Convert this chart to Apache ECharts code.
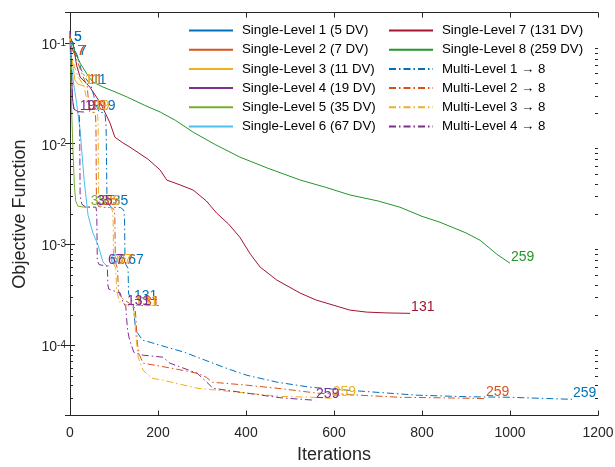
<!DOCTYPE html>
<html>
<head>
<meta charset="utf-8">
<script src="https://cdn.jsdelivr.net/npm/echarts@6/dist/echarts.min.js"></script>
<style>
  html, body { margin: 0; padding: 0; background: #ffffff; }
  #chart { width: 615px; height: 467px; }
</style>
</head>
<body>
<div id="chart"></div>
<script>
// Convergence histories: [iteration, objective value, optional DV-count tag]
const singleLevel1 = [[0,0.112],[3,0.105],[7,0.1,'5']];
const singleLevel2 = [[0,0.115],[3,0.095],[7,0.082],[14,0.0725,'7']];
const singleLevel3 = [[0,0.12],[3,0.075],[7,0.058],[11,0.043],[18,0.039],[32,0.0374,'11']];
const singleLevel4 = [[0,0.131],[2,0.08],[4,0.042],[6,0.027],[9,0.022],[18,0.0208],[32,0.0206,'19']];
const singleLevel5 = [[0,0.107],[2,0.05],[4,0.02],[7,0.008],[10,0.0038],[13,0.0027],[18,0.0024],[30,0.00235],[45,0.00234,'35']];
const singleLevel6 = [[0,0.107],[2,0.067],[8,0.04],[14,0.027],[23,0.0136],[32,0.0044],[41,0.00195],[52,0.0013],[64,0.00098],[75,0.00067],[82,0.00062],[89,0.00061,'67']];
const singleLevel7 = [[0,0.112],[7,0.1],[15,0.06],[23,0.0458],[45,0.0365],[70,0.025],[91,0.016],[102,0.0116],[120,0.0102],[136,0.00925],[177,0.00703],[205,0.00547],[220,0.00435],[250,0.0039],[280,0.00346],[310,0.0027],[333,0.00205],[360,0.0016],[386,0.00118],[410,0.0008],[432,0.000596],[470,0.000443],[523,0.000329],[560,0.00028],[598,0.00025],[636,0.000223],[674,0.000213],[720,0.000209],[773,0.000207,'131']];
const singleLevel8 = [[0,0.117],[4,0.104],[12,0.08],[23,0.063],[40,0.048],[52,0.041],[75,0.0365],[100,0.033],[130,0.029],[170,0.024],[205,0.0206],[240,0.017],[280,0.013],[330,0.0098],[386,0.00736],[450,0.0057],[523,0.00436],[580,0.0037],[636,0.0031],[700,0.0027],[750,0.00234],[800,0.0019],[841,0.00166],[900,0.0013],[932,0.0011],[970,0.0008],[1000,0.00065,'259']];

const multiLevel1 = [[0,0.112],[7,0.1,'5'],[11,0.085],[18,0.0725,'7'],[25,0.055],[35,0.045],[48,0.0374,'11'],[54,0.03],[60,0.024],[66,0.0206,'19'],[76,0.0203],[80,0.019],[82,0.015],[84,0.003],[87,0.0025],[95,0.00234,'35'],[115,0.00232],[122,0.0022],[124,0.0018],[125,0.0007],[127,0.00063],[130,0.00061,'67'],[132,0.00058],[133,0.00033],[137,0.00029],[143,0.000267,'131'],[144,0.00024],[148,0.00016],[152,0.000135],[165,0.000112],[182,0.000107],[220,0.0000955],[260,0.000085],[289,0.000076],[325,0.0000663],[360,0.000058],[402,0.0000503],[470,0.000043],[545,0.0000383],[598,0.0000366],[700,0.000034],[789,0.0000319],[900,0.0000308],[1000,0.0000304],[1141,0.000029,'259']];
const multiLevel2 = [[0,0.118],[4,0.09],[14,0.0725,'7'],[20,0.06],[30,0.046],[39,0.0374,'11'],[41,0.03],[43,0.024],[45,0.0206,'19'],[55,0.0204],[58,0.019],[59,0.015],[60,0.0028],[64,0.0024],[70,0.00234,'35'],[95,0.00232],[101,0.0022],[102,0.0018],[103,0.0007],[105,0.00063],[107,0.00061,'67'],[108,0.00058],[110,0.00035],[115,0.0003],[135,0.00026],[148,0.000233,'131'],[150,0.00018],[153,0.000105],[158,0.00008],[166,0.0000663],[227,0.0000595],[289,0.0000527],[310,0.000048],[323,0.0000429],[402,0.0000401],[480,0.000037],[545,0.0000341],[561,0.0000334],[650,0.000032],[750,0.0000304],[850,0.00003],[943,0.0000295,'259']];
const multiLevel3 = [[0,0.12],[4,0.075],[10,0.058],[20,0.045],[32,0.0374,'11'],[36,0.03],[42,0.024],[52,0.0206,'19'],[60,0.0204],[63,0.019],[64,0.015],[65,0.0028],[69,0.0024],[77,0.00234,'35'],[94,0.00232],[97,0.0021],[98,0.0018],[99,0.0007],[100,0.00063],[102,0.00061,'67'],[104,0.00058],[106,0.00035],[112,0.00027],[130,0.00025],[145,0.000235,'131'],[146,0.0002],[150,0.00012],[155,0.000076],[166,0.0000565],[186,0.000047],[211,0.0000449],[289,0.0000374],[402,0.0000334],[480,0.000031],[552,0.0000304],[595,0.0000297,'259']];
const multiLevel4 = [[0,0.131],[2,0.08],[4,0.042],[6,0.027],[9,0.022],[15,0.0208],[20,0.0206,'19'],[21,0.019],[22,0.015],[23,0.003],[27,0.0025],[35,0.00236],[59,0.00234,'35'],[60,0.0022],[61,0.0018],[62,0.0007],[66,0.00063],[84,0.00061,'67'],[85,0.00058],[86,0.0004],[88,0.00036],[114,0.00033],[120,0.00027],[127,0.00024,'131'],[128,0.0002],[131,0.00014],[135,0.000115],[145,0.000085],[166,0.0000796],[211,0.000076],[227,0.0000663],[289,0.0000527],[311,0.0000429],[325,0.0000374],[402,0.0000334],[480,0.00003],[557,0.0000284,'259']];

const seriesNames = [
  'Single-Level 1 (5 DV)', 'Single-Level 2 (7 DV)', 'Single-Level 3 (11 DV)',
  'Single-Level 4 (19 DV)', 'Single-Level 5 (35 DV)', 'Single-Level 6 (67 DV)',
  'Single-Level 7 (131 DV)', 'Single-Level 8 (259 DV)',
  'Multi-Level 1 \u2192 8', 'Multi-Level 2 \u2192 8', 'Multi-Level 3 \u2192 8', 'Multi-Level 4 \u2192 8'
];
const seriesData = [singleLevel1, singleLevel2, singleLevel3, singleLevel4, singleLevel5, singleLevel6,
  singleLevel7, singleLevel8, multiLevel1, multiLevel2, multiLevel3, multiLevel4];
const seriesColors = ['#0072BD', '#D95319', '#EDB120', '#7E2F8E', '#77AC30', '#4DBEEE',
  '#A2142F', '#22962A', '#0072BD', '#D95319', '#EDB120', '#7E2F8E'];
const seriesDashed = [false, false, false, false, false, false, false, false, true, true, true, true];

const xRange = [0, 1200];
const xStep = 200;
const yRange = [2e-5, 0.2];

const FONT = '"Liberation Sans", Arial, Helvetica, sans-serif';
const INK = '#262626';
const DASH_DOT = [7, 3, 1.5, 3];

function buildLine(i) {
  const color = seriesColors[i];
  return {
    name: seriesNames[i],
    type: 'line',
    xAxisIndex: 0,
    yAxisIndex: 0,
    data: seriesData[i].map(p => p[2]
      ? { value: [p[0], p[1]], label: { show: true, formatter: p[2] } }
      : [p[0], p[1]]),
    symbol: 'circle',
    symbolSize: 0,
    showSymbol: true,
    showAllSymbol: true,
    lineStyle: { color: color, width: 1, type: seriesDashed[i] ? DASH_DOT : 'solid' },
    itemStyle: { color: color },
    label: {
      show: false, position: 'right', distance: 1, offset: [0, -6],
      color: color, fontSize: 14, fontFamily: FONT
    },
    emphasis: { disabled: true },
    silent: true,
    animation: false
  };
}

// logarithmic minor ticks (2..9 x 10^k) inside the plot box, on both vertical sides
const minorTickValues = [];
for (let e = -5; e <= -1; e++) {
  for (let m = 2; m <= 9; m++) {
    const v = m * Math.pow(10, e);
    if (v > yRange[0] * 1.001 && v < yRange[1] * 0.999) minorTickValues.push(v);
  }
}

const minorTicks = {
  type: 'custom',
  xAxisIndex: 0,
  yAxisIndex: 0,
  silent: true,
  animation: false,
  z: 5,
  data: minorTickValues.map(v => [xRange[0], v]),
  renderItem: function (params, api) {
    const pt = api.coord([xRange[0], api.value(1)]);
    const cs = params.coordSys;
    const y = Math.round(pt[1]) + 0.5;
    const st = { stroke: INK, lineWidth: 1 };
    return {
      type: 'group',
      children: [
        { type: 'line', shape: { x1: cs.x, y1: y, x2: cs.x + 3, y2: y }, style: st },
        { type: 'line', shape: { x1: cs.x + cs.width - 3, y1: y, x2: cs.x + cs.width, y2: y }, style: st }
      ]
    };
  }
};

function powerLabel(v) {
  const e = Math.log10(v);
  const r = Math.round(e);
  return Math.abs(e - r) < 1e-6 ? '{b|10}{s|' + r + '}' : '';
}

const axisLineStyle = { lineStyle: { color: INK, width: 1 } };
const legendText = { fontSize: 13.3, fontFamily: FONT, color: '#000000', padding: [0, 0, 0, 4] };

const option = {
  backgroundColor: '#ffffff',
  animation: false,
  grid: { left: 70, right: 17, top: 12.6, bottom: 51.4, containLabel: false, outerBoundsMode: 'none' },
  legend: [
    {
      data: seriesNames.slice(0, 6),
      orient: 'vertical', left: 183, top: 19,
      itemWidth: 44, itemHeight: 14, itemGap: 6.2,
      itemStyle: { opacity: 0 },
      textStyle: legendText,
      selectedMode: false
    },
    {
      data: seriesNames.slice(6),
      orient: 'vertical', left: 383, top: 19,
      itemWidth: 44, itemHeight: 14, itemGap: 6.2,
      itemStyle: { opacity: 0 },
      textStyle: legendText,
      selectedMode: false
    }
  ],
  xAxis: [
    {
      type: 'value', position: 'bottom', min: xRange[0], max: xRange[1], interval: xStep,
      name: 'Iterations', nameLocation: 'middle', nameGap: 30,
      nameTextStyle: { fontSize: 18, fontFamily: FONT, color: INK },
      axisLine: axisLineStyle,
      axisTick: { inside: true, length: 5, lineStyle: { color: INK } },
      axisLabel: { fontSize: 14, fontFamily: FONT, color: INK, margin: 11, formatter: v => String(v) },
      splitLine: { show: false }
    },
    {
      type: 'value', position: 'top', min: xRange[0], max: xRange[1], interval: xStep,
      axisLine: axisLineStyle,
      axisTick: { inside: true, length: 5, lineStyle: { color: INK } },
      axisLabel: { show: false },
      splitLine: { show: false }
    }
  ],
  yAxis: [
    {
      type: 'log', logBase: 10, position: 'left', min: yRange[0], max: yRange[1],
      name: 'Objective Function', nameLocation: 'middle', nameGap: 41,
      nameTextStyle: { fontSize: 18, fontFamily: FONT, color: INK },
      axisLine: axisLineStyle,
      axisTick: { inside: true, length: 5, lineStyle: { color: INK } },
      axisLabel: {
        formatter: powerLabel, margin: 4, padding: [4, 0, 0, 0],
        rich: {
          b: { fontSize: 14, lineHeight: 14, fontFamily: FONT, color: INK, verticalAlign: 'bottom' },
          s: { fontSize: 10, lineHeight: 10, fontFamily: FONT, color: INK, verticalAlign: 'top', padding: [0, 0, 8, 0] }
        }
      },
      splitLine: { show: false },
      minorTick: { show: false }
    },
    {
      type: 'log', logBase: 10, position: 'right', min: yRange[0], max: yRange[1],
      axisLine: axisLineStyle,
      axisTick: { inside: true, length: 5, lineStyle: { color: INK } },
      axisLabel: { show: false },
      splitLine: { show: false }
    }
  ],
  series: seriesData.map((_, i) => buildLine(i)).concat([minorTicks])
};

const chart = echarts.init(document.getElementById('chart'), null, { renderer: 'canvas' });
chart.setOption(option);
</script>
</body>
</html>
